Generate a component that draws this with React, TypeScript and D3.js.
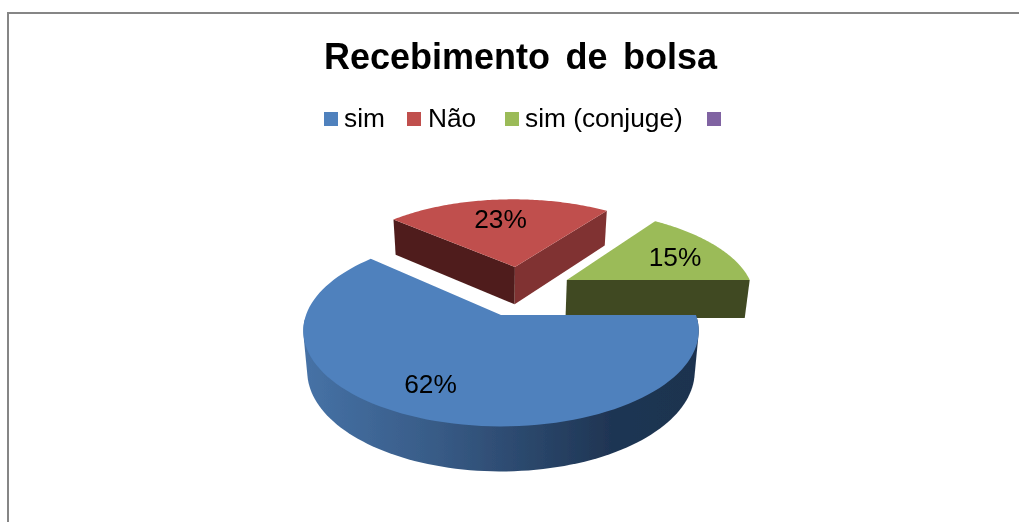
import React from "react";
import * as d3 from "d3";

const titleText = "Recebimento de bolsa";
const categories = ["sim", "Não", "sim (conjuge)", ""];
const shares = [61.7, 23.3, 15, 0];
const sliceLabels = ["62%", "23%", "15%", ""];
const topColors = ["#4f81bd", "#c0504d", "#9bbb59", "#8064a2"];

const W = 1019;
const H = 522;
// perspective model of the pie plane
const CX = 501;
const CY = 315;
const RX = 195;
const RY = 93;
const K = 0.165;
const DEPTH = 39.7;
const BX = 0.98;
const BY = 1.048;
// exploded offsets per slice, in pie-plane units (u right, v away)
const explode: [number, number][] = [[0, 0], [0.078, 0.565], [0.36, 0.402], [0, 0]];
const labelPos: [number, number][] = [[430.5, 393], [500.5, 228], [675, 266]];
const legendSwatchX = [324, 407, 505, 707];
const legendTextX = [344, 428, 525, 0];

type P = [number, number];

const project = (u: number, v: number, bottom = false): P => {
  const s = 1 / (1 + K * v);
  return bottom
    ? [CX + RX * BX * u * s, CY + DEPTH - RY * BY * v * s]
    : [CX + RX * u * s, CY - RY * v * s];
};

const pieGen = d3
  .pie<number>()
  .sort(null)
  .startAngle(Math.PI / 2)
  .endAngle(Math.PI / 2 + 2 * Math.PI);
const arcs = pieGen(shares);

// angle measured as d3.pie: clockwise from north
const rim = (a: number, o: [number, number]): [number, number] => [o[0] + Math.sin(a), o[1] + Math.cos(a)];

const line = d3.line<P>();

const sampleAngles = (a0: number, a1: number) =>
  d3.range(0, 97).map((i) => d3.interpolateNumber(a0, a1)(i / 96));

const topPath = (i: number) => {
  const o = explode[i];
  const pts: P[] = [project(o[0], o[1])];
  sampleAngles(arcs[i].startAngle, arcs[i].endAngle).forEach((a) => {
    const [u, v] = rim(a, o);
    pts.push(project(u, v));
  });
  return line(pts) + "Z";
};

const wallPath = (i: number, a: number) => {
  const o = explode[i];
  const [u, v] = rim(a, o);
  return (
    line([project(o[0], o[1]), project(u, v), project(u, v, true), project(o[0], o[1], true)]) + "Z"
  );
};

// silhouette of the extruded rim: hull of the near half of the top and bottom rims
const outerPath = (i: number) => {
  const o = explode[i];
  const as = sampleAngles(arcs[i].startAngle, Math.min(arcs[i].endAngle, (3 * Math.PI) / 2 - 0.05));
  const pts: P[] = [];
  as.forEach((a) => {
    const [u, v] = rim(a, o);
    pts.push(project(u, v), project(u, v, true));
  });
  const hull = d3.polygonHull(pts) as P[];
  return line(hull) + "Z";
};

const font = "'Liberation Sans', Arial, sans-serif";

export default function App() {
  return (
    <svg
      width={W}
      height={H}
      viewBox={`0 0 ${W} ${H}`}
      style={{ position: "absolute", left: 0, top: 0, background: "#fff" }}
    >
      <defs>
        <linearGradient id="blueSide" gradientUnits="userSpaceOnUse" x1={304} x2={698} y1={0} y2={0}>
          <stop offset="0" stopColor="#4672a6" />
          <stop offset="0.35" stopColor="#375a85" />
          <stop offset="0.78" stopColor="#1f3553" />
          <stop offset="1" stopColor="#1e334f" />
        </linearGradient>
        <filter id="soft" x="-5%" y="-5%" width="110%" height="110%">
          <feGaussianBlur stdDeviation="0.45" />
        </filter>
      </defs>
      <path d={`M8,${H}V13H${W}`} fill="none" stroke="#868686" strokeWidth={2} />

      <g filter="url(#soft)">
        <text x={520.5} y={69} textAnchor="middle" fontFamily={font} fontWeight="bold" fontSize={36} wordSpacing={5.5}>
          {titleText}
        </text>

        {categories.map((c, i) => (
          <g key={i}>
            <rect x={legendSwatchX[i]} y={112} width={14} height={14} fill={topColors[i]} />
            {c && (
              <text x={legendTextX[i]} y={127} fontFamily={font} fontSize={26.3}>
                {c}
              </text>
            )}
          </g>
        ))}

        {/* red slice */}
        <path d={wallPath(1, arcs[1].startAngle)} fill="#4f1f1e" />
        <path d={wallPath(1, arcs[1].endAngle)} fill="#803231" />
        <path d={topPath(1)} fill={topColors[1]} />

        {/* green slice */}
        <path d={wallPath(2, arcs[2].endAngle)} fill="#3f4a22" />
        <path d={topPath(2)} fill={topColors[2]} />

        {/* blue slice */}
        <path d={outerPath(0)} fill="url(#blueSide)" />
        <path d={topPath(0)} fill={topColors[0]} />

        {sliceLabels.map((t, i) =>
          t ? (
            <text key={i} x={labelPos[i][0]} y={labelPos[i][1]} textAnchor="middle" fontFamily={font} fontSize={26.3}>
              {t}
            </text>
          ) : null
        )}
      </g>
    </svg>
  );
}
